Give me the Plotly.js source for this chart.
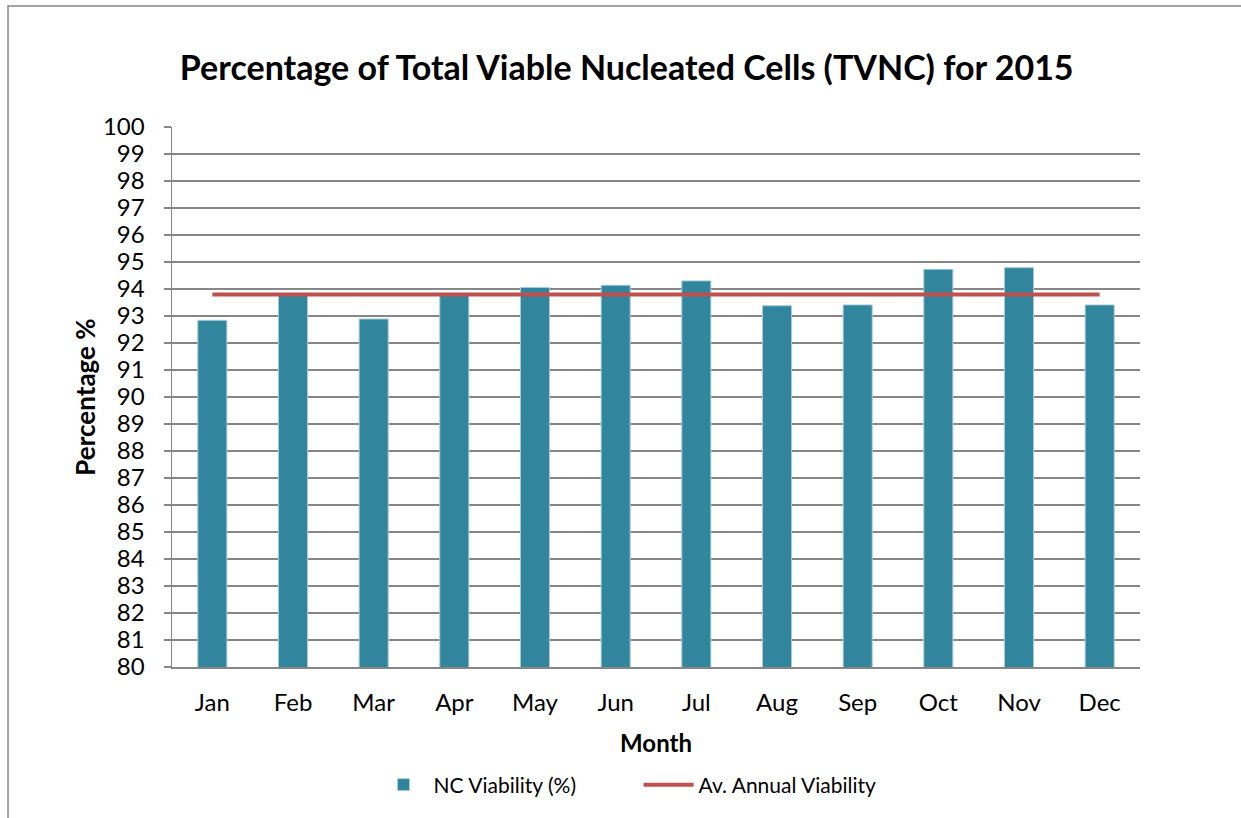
<!DOCTYPE html>
<html>
<head>
<meta charset="utf-8">
<script src="https://cdn.plot.ly/plotly-3.0.1.min.js"></script>
<style>html,body{margin:0;padding:0;background:#fff;}#chart{width:1241px;height:818px;}</style>
</head>
<body>
<div id="chart"></div>
<script>
const months = ["Jan","Feb","Mar","Apr","May","Jun","Jul","Aug","Sep","Oct","Nov","Dec"];
const ncViability = [92.84, 93.80, 92.89, 93.80, 94.06, 94.14, 94.30, 93.38, 93.41, 94.73, 94.79, 93.41];
const avAnnual = [93.80, 93.80, 93.80, 93.80, 93.80, 93.80, 93.80, 93.80, 93.80, 93.80, 93.80, 93.80];
const yTicks = [80,81,82,83,84,85,86,87,88,89,90,91,92,93,94,95,96,97,98,99,100];

const FONT = "Lato, Calibri, Carlito, 'Open Sans', sans-serif";
const traces = [
  {type:"bar", name:"NC Viability (%)", x:months, y:ncViability,
   marker:{color:"#31859C", line:{color:"#A9CCD8", width:1}}},
  {type:"scatter", mode:"lines", name:"Av. Annual Viability", x:months, y:avAnnual,
   line:{color:"#C0504D", width:4}}
];
const layout = {
  width:1241, height:818,
  margin:{l:172, r:101, t:127, b:151},
  paper_bgcolor:"#fff", plot_bgcolor:"#fff",
  font:{family:FONT, color:"#000", size:24},
  bargap:0.64,
  showlegend:true,
  title:{text:"<b>Percentage of Total Viable Nucleated Cells (TVNC) for 2015</b>",
         font:{family:FONT, size:34, color:"#000"},
         x:0.505, xref:"container", xanchor:"center", y:0.917, yref:"container", yanchor:"middle"},
  xaxis:{type:"category", showgrid:false, zeroline:false,
         showline:true, linecolor:"#868686", linewidth:1.5,
         ticks:"", ticklabelstandoff:14,
         tickfont:{family:FONT, size:24},
         title:{text:"<b>Month</b>", font:{family:FONT, size:24}, standoff:20}},
  yaxis:{range:[80,100], tickvals:yTicks, ticktext:yTicks.map(String),
         showgrid:true, gridcolor:"#868686", gridwidth:1.5, zeroline:false,
         showline:true, linecolor:"#868686", linewidth:1.5,
         ticks:"outside", ticklen:7, tickcolor:"#868686", tickwidth:1.5,
         ticklabelstandoff:14,
         tickfont:{family:FONT, size:24},
         title:{text:"<b>Percentage %</b>", font:{family:FONT, size:26}, standoff:0}},
  legend:{orientation:"h", x:0.482, xanchor:"center", y:-0.2185, yanchor:"middle",
          font:{family:FONT, size:21}, traceorder:"normal", itemwidth:50, entrywidth:200},
  shapes:[{type:"rect", xref:"paper", yref:"paper",
           x0:-0.1694, x1:1.2, y0:-0.35, y1:1.224,
           line:{color:"#878787", width:1.5}, fillcolor:"rgba(0,0,0,0)", layer:"above"}]
};
Plotly.newPlot("chart", traces, layout, {displayModeBar:false, staticPlot:true});
</script>
</body>
</html>
